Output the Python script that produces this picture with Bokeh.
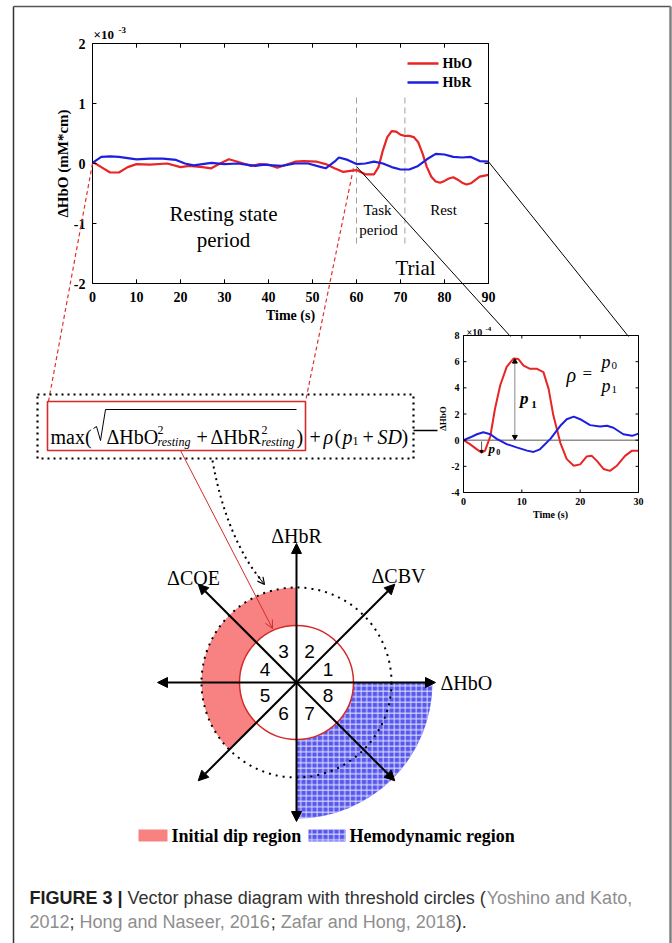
import numpy as np
from bokeh.plotting import figure
from bokeh.models import Range1d, Arrow, NormalHead, OpenHead
from bokeh.core.properties import value
from bokeh.embed import file_html
from bokeh.resources import INLINE

# ---------------- data ----------------
main_t_hbo = [0, 2, 4, 6, 8, 10, 13, 17, 20, 22, 25, 27, 29, 31, 33, 36, 38, 40, 42, 44, 46, 48,
              51, 53, 55, 57, 59, 60, 62, 64, 65, 66, 67, 68, 69, 70, 71, 72, 73, 74, 75, 76,
              77, 78, 79, 80, 81, 82, 83, 84, 85, 86, 88, 90]
main_hbo = [0.03, -0.06, -0.15, -0.15, -0.06, -0.01, -0.02, 0.0, -0.06, -0.04, -0.06, -0.08, 0.0,
            0.07, 0.03, -0.04, -0.01, -0.02, -0.07, -0.02, 0.03, 0.04, 0.03, -0.01, -0.08, -0.14,
            -0.12, -0.11, -0.18, -0.18, -0.06, 0.22, 0.44, 0.54, 0.53, 0.48, 0.46, 0.46, 0.44,
            0.36, 0.17, -0.06, -0.22, -0.30, -0.32, -0.29, -0.25, -0.23, -0.27, -0.32, -0.35,
            -0.33, -0.22, -0.19]
main_t_hbr = [0, 2, 4, 6, 8, 10, 13, 16, 19, 21, 23, 25, 27, 30, 33, 35, 37, 39, 41, 43, 46, 49,
              52, 53, 55, 56, 58, 60, 62, 64, 66, 68, 70, 72, 74, 76, 78, 80, 82, 84, 86, 88, 90]
main_hbr = [0.01, 0.11, 0.12, 0.11, 0.09, 0.07, 0.08, 0.08, 0.06, 0.0, -0.03, -0.01, 0.01, -0.01,
            0.0, -0.02, -0.04, -0.02, -0.03, -0.04, 0.0, 0.0, -0.06, -0.08, 0.03, 0.10, 0.06,
            -0.01, 0.0, 0.03, 0.0, -0.06, -0.10, -0.10, -0.04, 0.07, 0.16, 0.15, 0.11, 0.10,
            0.11, 0.04, 0.03]
main_xticks = [0, 10, 20, 30, 40, 50, 60, 70, 80, 90]
main_yticks = [-2, -1, 0, 1, 2]
main_phase_lines = [60, 71]

inset_t_hbo = [0, 1.1, 2.3, 3.1, 3.7, 4.6, 5.4, 6.3, 7.4, 8.6, 9.4, 10.3, 11.4, 12.6, 13.7, 14.6,
               15.4, 16.6, 17.7, 18.9, 20, 21.1, 22, 22.9, 24, 25.1, 26.3, 27.7, 28.9, 30]
inset_hbo = [0, -0.3, -0.7, -0.95, -0.8, 0.3, 2.4, 4.2, 5.6, 6.25, 6.2, 5.7, 5.45, 5.45, 5.2, 3.9,
             1.9, -0.2, -1.45, -1.95, -1.85, -1.25, -1.2, -1.6, -2.2, -2.35, -1.95, -1.2, -0.8, -0.8]
inset_t_hbr = [0, 1.1, 2.3, 3.4, 4.6, 5.7, 7.4, 9.1, 10.9, 12, 13.1, 14.9, 16.6, 17.7, 18.9, 20,
               21.7, 23.4, 24.6, 25.7, 27.4, 28.9, 30]
inset_hbr = [0, 0.2, 0.45, 0.6, 0.45, 0.1, -0.3, -0.55, -0.8, -0.9, -0.7, 0.1, 1.1, 1.6, 1.8, 1.6,
             1.15, 1.05, 1.1, 0.95, 0.45, 0.33, 0.5]
inset_xticks = [0, 10, 20, 30]
inset_yticks = [-4, -2, 0, 2, 4, 6, 8]

sector_labels = ["1", "2", "3", "4", "5", "6", "7", "8"]
diagram_axis_labels = ["ΔHbO", "ΔCBV", "ΔHbR", "ΔCOE"]

# ---------------- styles ----------------
W, H = 672, 943
RED = "#e82424"
BLUE = "#1e1ee0"
RED2 = "#d42a2a"
PINK = "#f88282"
HATCHBLUE = "#5858ee"
SERIF = value("Liberation Serif")
SANS = value("Liberation Sans")


def Y(py):
    return H - py


p = figure(width=W, height=H, x_range=Range1d(0, W), y_range=Range1d(0, H),
           x_axis_location=None, y_axis_location=None,
           output_backend="svg", toolbar_location=None, min_border=0)
p.xgrid.visible = False
p.ygrid.visible = False
p.outline_line_color = None
p.background_fill_color = "white"
p.border_fill_color = "white"


def txt(r, x, y, s, size, font=SERIF, style="normal", color="black", align="left",
        baseline="middle", angle=0.0, xo=0, yo=0):
    xs = x if isinstance(x, list) else [x]
    ys = y if isinstance(y, list) else [y]
    ss = s if isinstance(s, list) else [s]
    r.text(x=xs, y=ys, text=ss, text_font=font, text_font_size=f"{size}px",
           text_font_style=style, text_color=color, text_align=align,
           text_baseline=baseline, angle=angle, x_offset=xo, y_offset=yo)


# ---------------- outer frame ----------------
p.line([13, 13], [Y(943), Y(6)], line_color="#333333", line_width=1.5)
p.line([13, 670], [Y(6), Y(6)], line_color="#555555", line_width=1.5)
p.line([670, 670], [Y(6), Y(943)], line_color="#808080", line_width=2.5)

# ---------------- main time-series panel ----------------
mp = p.subplot(x_source=Range1d(0, 90), y_source=Range1d(-2, 2),
               x_target=Range1d(92, 488), y_target=Range1d(Y(283), Y(43)))
nx, ny = len(main_xticks), len(main_yticks)
mp.segment(x0=main_phase_lines, y0=[1.1] * 2, x1=main_phase_lines, y1=[-1.4] * 2,
           line_color="#a0a0a0", line_dash="6 4", line_width=1)
mp.line(main_t_hbo, main_hbo, line_color=RED, line_width=2.2)
mp.line(main_t_hbr, main_hbr, line_color=BLUE, line_width=2.2)
mp.quad(left=[0], right=[90], bottom=[-2], top=[2], fill_color=None,
        line_color="black", line_width=1)
mp.segment(x0=main_xticks, y0=[-2] * nx, x1=main_xticks, y1=[-1.93] * nx, line_color="black")
mp.segment(x0=main_xticks, y0=[2] * nx, x1=main_xticks, y1=[1.93] * nx, line_color="black")
mp.segment(x0=[0] * ny, y0=main_yticks, x1=[0.9] * ny, y1=main_yticks, line_color="black")
mp.segment(x0=[90] * ny, y0=main_yticks, x1=[89.1] * ny, y1=main_yticks, line_color="black")
txt(mp, main_xticks, [-2] * nx, [str(v) for v in main_xticks], 14, style="bold",
    align="center", baseline="top", yo=8)
txt(mp, [0] * ny, main_yticks, [str(v) for v in main_yticks], 14, style="bold",
    align="right", baseline="middle", xo=-7)
txt(p, 93, Y(34), "×10", 13, style="bold")
txt(p, 118, Y(29), "-3", 9, style="bold")
txt(p, 62, Y(163), "ΔHbO (mM*cm)", 15, style="bold", align="center", angle=np.pi / 2)
txt(p, 290, Y(315), "Time (s)", 14, style="bold", align="center")
# legend
p.line([407, 438], [Y(63), Y(63)], line_color=RED, line_width=2.5)
p.line([407, 438], [Y(82), Y(82)], line_color=BLUE, line_width=2.5)
txt(p, 442, Y(63), "HbO", 14, style="bold")
txt(p, 442, Y(82), "HbR", 14, style="bold")
# period annotations
txt(p, 223, Y(213), "Resting state", 21, align="center")
txt(p, 223, Y(239), "period", 21, align="center")
txt(p, 377, Y(209), "Task", 15, align="center")
txt(p, 378, Y(229), "period", 15, align="center")
txt(p, 443, Y(209), "Rest", 15, align="center")
txt(p, 415, Y(267), "Trial", 21, align="center")


def mpx(t):
    return 92 + t / 90 * 396


def mpy(v):
    return Y(163 - v * 60)


# connectors from the main panel
p.segment(x0=[mpx(0), mpx(59.3)], y0=[mpy(0), mpy(-0.08)], x1=[48, 305], y1=[Y(401), Y(401)],
          line_color="#e03030", line_dash="4 3", line_width=1.2)
p.segment(x0=[mpx(60), mpx(90)], y0=[mpy(-0.05), mpy(0.03)], x1=[510, 628], y1=[Y(336), Y(336)],
          line_color="black", line_width=1)

# ---------------- inset panel ----------------
ip = p.subplot(x_source=Range1d(0, 30), y_source=Range1d(-4, 8),
               x_target=Range1d(463, 638), y_target=Range1d(Y(492), Y(335)))
ix, iy = len(inset_xticks), len(inset_yticks)
ip.segment(x0=[0], y0=[0], x1=[30], y1=[0], line_color="#555555", line_width=1)
ip.line(inset_t_hbo, inset_hbo, line_color=RED, line_width=2)
ip.line(inset_t_hbr, inset_hbr, line_color=BLUE, line_width=2)
ip.quad(left=[0], right=[30], bottom=[-4], top=[8], fill_color=None, line_color="black",
        line_width=1)
ip.segment(x0=inset_xticks, y0=[-4] * ix, x1=inset_xticks, y1=[-3.77] * ix, line_color="black")
ip.segment(x0=inset_xticks, y0=[8] * ix, x1=inset_xticks, y1=[7.77] * ix, line_color="black")
ip.segment(x0=[0] * iy, y0=inset_yticks, x1=[0.5] * iy, y1=inset_yticks, line_color="black")
ip.segment(x0=[30] * iy, y0=inset_yticks, x1=[29.5] * iy, y1=inset_yticks, line_color="black")
txt(ip, inset_xticks, [-4] * ix, [str(v) for v in inset_xticks], 10, style="bold",
    align="center", baseline="top", yo=5)
txt(ip, [0] * iy, inset_yticks, [str(v) for v in inset_yticks], 10, style="bold",
    align="right", xo=-4)
txt(p, 466, Y(332), "×10", 10, style="bold")
txt(p, 485, Y(328), "-4", 7, style="bold")
txt(p, 550, Y(514), "Time (s)", 10, style="bold", align="center")
txt(p, 442, Y(418), "ΔHbO", 9, style="bold", align="center", angle=np.pi / 2)
# p1 / p0 markers
ip.segment(x0=[8.8], y0=[6.0], x1=[8.8], y1=[0.25], line_color="#8a8a8a", line_width=1)
ip.scatter(x=[8.8], y=[6.0], marker="triangle", size=5, color="black")
ip.scatter(x=[8.8], y=[0.25], marker="inverted_triangle", size=5, color="black")
ip.segment(x0=[3.1], y0=[-0.1], x1=[3.1], y1=[-0.85], line_color="#555555", line_width=1)
ip.scatter(x=[3.1], y=[-0.85], marker="inverted_triangle", size=3, color="black")
txt(ip, 9.7, 3.2, "p", 17, style="bold italic")
txt(ip, 11.6, 2.7, "1", 11, style="bold")
txt(ip, 4.3, -0.65, "p", 13, style="bold italic")
txt(ip, 5.6, -0.9, "0", 8, style="bold")
# rho = p0 / p1
txt(p, 566, Y(374), "ρ", 20, style="italic")
txt(p, 582, Y(373), "=", 17)
txt(p, 601, Y(361), "p", 18, style="italic")
txt(p, 611, Y(365), "0", 11)
txt(p, 601, Y(385), "p", 18, style="italic")
txt(p, 611, Y(389), "1", 11)

# ---------------- formula box ----------------
p.quad(left=[37], right=[413], bottom=[Y(458)], top=[Y(394)], fill_color=None,
       line_color="black", line_dash="2 4", line_width=2.2)
p.quad(left=[47], right=[305], bottom=[Y(450)], top=[Y(401)], fill_color=None,
       line_color=RED2, line_width=1.6)
p.segment(x0=[413], y0=[Y(430)], x1=[437], y1=[Y(430)], line_color="black", line_width=1.5)
BL = Y(436)
txt(p, 50, BL, "max(", 20, baseline="alphabetic")
p.line([93, 96, 100, 105, 296], [Y(428), Y(426), Y(440), Y(409), Y(409)], line_color="black",
       line_width=1)
txt(p, 106, BL, "ΔHbO", 20, baseline="alphabetic")
txt(p, 157, Y(429), "2", 12, baseline="alphabetic")
txt(p, 157, Y(441), "resting", 12, style="italic", baseline="alphabetic")
txt(p, 196, BL, "+", 20, baseline="alphabetic")
txt(p, 210, BL, "ΔHbR", 20, baseline="alphabetic")
txt(p, 261, Y(429), "2", 12, baseline="alphabetic")
txt(p, 261, Y(441), "resting", 12, style="italic", baseline="alphabetic")
txt(p, 296, BL, ")", 20, baseline="alphabetic")
txt(p, 309, BL, "+", 20, baseline="alphabetic")
txt(p, 323, BL, "ρ", 20, style="italic", baseline="alphabetic")
txt(p, 334, BL, "(", 20, baseline="alphabetic")
txt(p, 342, BL, "p", 20, style="italic", baseline="alphabetic")
txt(p, 352, Y(440), "1", 12, baseline="alphabetic")
txt(p, 362, BL, "+", 20, baseline="alphabetic")
txt(p, 377, BL, "SD", 20, style="italic", baseline="alphabetic")
txt(p, 401, BL, ")", 20, baseline="alphabetic")

# ---------------- vector phase diagram ----------------
cx, cy = 296, Y(682)
R_IN, R_OUT, R_BLUE, R_AX = 57, 95, 136, 139
p.annular_wedge(x=[cx], y=[cy], inner_radius=R_IN, outer_radius=R_OUT,
                start_angle=np.pi / 2, end_angle=5 * np.pi / 4, fill_color=PINK, line_color=None)
p.annular_wedge(x=[cx], y=[cy], inner_radius=R_IN, outer_radius=R_BLUE,
                start_angle=-np.pi / 2, end_angle=0, fill_color=HATCHBLUE, line_color=None,
                hatch_pattern="+", hatch_color="white", hatch_scale=5.5, hatch_weight=1,
                hatch_alpha=0.8)
p.circle(x=[cx], y=[cy], radius=R_OUT, fill_color=None, line_color="black",
         line_dash="2 5", line_width=2)
p.circle(x=[cx], y=[cy], radius=R_IN, fill_color="white", line_color=RED2, line_width=1.5)
for k in range(8):
    a = k * np.pi / 4
    p.add_layout(Arrow(x_start=cx, y_start=cy, x_end=cx + R_AX * np.cos(a),
                       y_end=cy + R_AX * np.sin(a), line_color="black", line_width=2,
                       end=NormalHead(size=10, fill_color="black", line_color="black",
                                      line_width=1)))
txt(p, 440, cy, diagram_axis_labels[0], 20)
txt(p, 398, Y(575), diagram_axis_labels[1], 20, align="center")
txt(p, 296, Y(535), diagram_axis_labels[2], 20, align="center")
txt(p, 193, Y(577), diagram_axis_labels[3], 20, align="center")
ang = np.pi / 8 + np.arange(8) * np.pi / 4
txt(p, list(cx + 34 * np.cos(ang)), list(cy + 34 * np.sin(ang)), sector_labels, 19,
    font=SANS, align="center")
# arrows from the formula box
p.add_layout(Arrow(x_start=180, y_start=Y(450), x_end=272, y_end=Y(628), line_color=RED2,
                   line_width=1, end=OpenHead(size=8, line_color=RED2, line_width=1)))
p.bezier(x0=[212], y0=[Y(460)], x1=[262], y1=[Y(581)], cx0=[221], cy0=[Y(512)],
         cx1=[240], cy1=[Y(556)], line_color="black", line_dash="2 4", line_width=2)
p.add_layout(Arrow(x_start=257, y_start=Y(575), x_end=264, y_end=Y(584), line_color="black",
                   line_width=1, end=OpenHead(size=7, line_color="black", line_width=1.2)))

# legend for regions
p.quad(left=[138], right=[167], bottom=[Y(841)], top=[Y(829)], fill_color=PINK, line_color=None)
p.quad(left=[308], right=[345], bottom=[Y(841)], top=[Y(829)], fill_color=HATCHBLUE,
       line_color=None, hatch_pattern="+", hatch_color="white", hatch_scale=5.5,
       hatch_weight=1, hatch_alpha=0.8)
txt(p, 171, Y(835), "Initial dip region", 18, style="bold")
txt(p, 349, Y(835), "Hemodynamic region", 18, style="bold")

# ---------------- caption ----------------
AW = {' ': 278, 'a': 556, 'b': 556, 'c': 500, 'd': 556, 'e': 556, 'f': 278, 'g': 556,
      'h': 556, 'i': 222, 'j': 222, 'k': 500, 'l': 222, 'm': 833, 'n': 556, 'o': 556,
      'p': 556, 'q': 556, 'r': 333, 's': 500, 't': 278, 'u': 556, 'v': 500, 'w': 722,
      'x': 500, 'y': 500, 'z': 500, '(': 333, ')': 333, ';': 278, ',': 278, '.': 278,
      '|': 280, 'F': 611, 'I': 278, 'G': 778, 'U': 722, 'R': 722, 'E': 667, 'V': 667,
      'Y': 667, 'K': 667, 'H': 722, 'N': 722, 'Z': 611}


def tw(s, size):
    return sum(556 if c.isdigit() else AW.get(c, 556) for c in s) * size / 1000


CAP = 18
DARK, GRAY = "#333333", "#8e8e8e"
cap_lines = [
    (Y(897), [("FIGURE 3 |", "bold", "#1e1e1e", 0), ("Vector phase diagram with threshold circles (",
                                                     "normal", DARK, 1),
              ("Yoshino and Kato,", "normal", GRAY, 0)]),
    (Y(921), [("2012", "normal", GRAY, 0), (";", "normal", DARK, 0),
              ("Hong and Naseer, 2016", "normal", GRAY, 1), (";", "normal", DARK, 0),
              ("Zafar and Hong, 2018", "normal", GRAY, 1), (").", "normal", DARK, 0)]),
]
for yy, segs in cap_lines:
    x = 29
    for s, st, col, gap in segs:
        x += gap * tw(" ", CAP)
        txt(p, x, yy, s, CAP, font=SANS, style=st, color=col)
        x += tw(s, CAP)

open("out.html", "w").write(file_html(p, INLINE))
